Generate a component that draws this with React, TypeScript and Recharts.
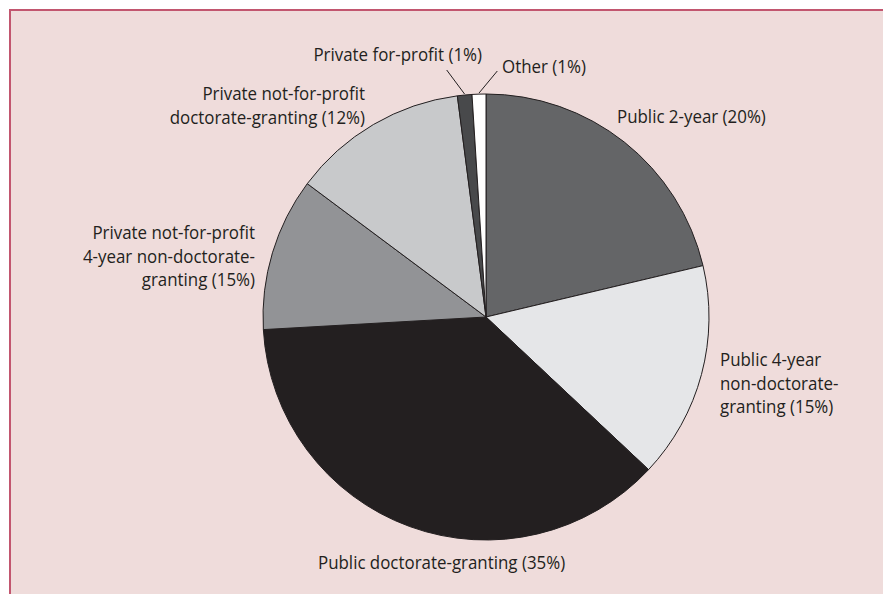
import React from 'react';
import { Cell, Pie, PieChart } from 'recharts';

const categories = [
  'Public 2-year',
  'Public 4-year non-doctorate-granting',
  'Public doctorate-granting',
  'Private not-for-profit 4-year non-doctorate-granting',
  'Private not-for-profit doctorate-granting',
  'Private for-profit',
  'Other'
];
const shares = [21.3, 15.7, 37.1, 11.1, 12.75, 1.05, 1.0];
const labelLines = [
  ['Public 2-year (20%)'],
  ['Public 4-year', 'non-doctorate-', 'granting (15%)'],
  ['Public doctorate-granting (35%)'],
  ['Private not-for-profit', '4-year non-doctorate-', 'granting (15%)'],
  ['Private not-for-profit', 'doctorate-granting (12%)'],
  ['Private for-profit (1%)'],
  ['Other (1%)']
];

const SLICE_COLORS = ['#646567', '#e5e6e8', '#231f20', '#929396', '#c8c9cb', '#48494b', '#ffffff'];
const INK = '#231f20';
const FONT = '"Open Sans", "Noto Sans", sans-serif';
const SQUEEZE = 0.89; // the original face is a narrow humanist sans

// label placement relative to the pie centre; lead = leader line end point
const LABEL_LAYOUT: Array<{ dx: number; dy: number; anchor: 'start' | 'middle' | 'end'; lh: number; lead?: [number, number] }> = [
  { dx: 131, dy: -194.5, anchor: 'start', lh: 23.6 },
  { dx: 234, dy: 49, anchor: 'start', lh: 23.6 },
  { dx: -168, dy: 252, anchor: 'start', lh: 23.6 },
  { dx: -231, dy: -78, anchor: 'end', lh: 23.6 },
  { dx: -121, dy: -216.6, anchor: 'end', lh: 23.3 },
  { dx: -4, dy: -256.5, anchor: 'end', lh: 23.6, lead: [-39.3, -247] },
  { dx: 16, dy: -243.7, anchor: 'start', lh: 23.6, lead: [11.3, -246] }
];

const data = categories.map((name, i) => ({ name, value: shares[i] }));

const RAD = Math.PI / 180;

function renderLabel(props: any) {
  const { cx, cy, midAngle, outerRadius, index } = props;
  const cfg = LABEL_LAYOUT[index];
  const lines = labelLines[index];
  const x = cx + cfg.dx;
  const y = cy + cfg.dy;
  let leader = null;
  if (cfg.lead) {
    const sx = cx + Math.cos(-midAngle * RAD) * (outerRadius + 1);
    const sy = cy + Math.sin(-midAngle * RAD) * (outerRadius + 1);
    leader = <line x1={sx} y1={sy} x2={cx + cfg.lead[0]} y2={cy + cfg.lead[1]} stroke={INK} strokeWidth={1} />;
  }
  return (
    <g key={'lbl-' + index}>
      {leader}
      <text
        x={0}
        y={0}
        transform={`translate(${x} ${y}) scale(${SQUEEZE} 1)`}
        textAnchor={cfg.anchor}
        fill={INK}
        fontSize={19}
        fontFamily={FONT}
      >
        {lines.map((ln, j) => (
          <tspan key={j} x={0} dy={j === 0 ? 0 : cfg.lh}>{ln}</tspan>
        ))}
      </text>
    </g>
  );
}

export default function App() {
  return (
    <div style={{ position: 'absolute', left: 0, top: 0, width: 883, height: 594, overflow: 'hidden', background: '#fff' }}>
      <div
        style={{
          position: 'absolute',
          left: 9,
          top: 9,
          width: 900,
          height: 600,
          background: '#efdcdb',
          borderTop: '2px solid #c2566f',
          borderLeft: '2px solid #c2566f'
        }}
      />
      <div style={{ position: 'absolute', left: 0, top: 0 }}>
        <PieChart width={883} height={594} margin={{ top: 0, right: 0, bottom: 0, left: 0 }}>
          <Pie
            data={data}
            dataKey="value"
            nameKey="name"
            cx={486}
            cy={317}
            outerRadius={223}
            startAngle={90}
            endAngle={-270}
            stroke={INK}
            strokeWidth={1}
            label={renderLabel}
            labelLine={false}
            isAnimationActive={false}
          >
            {data.map((d, i) => (
              <Cell key={d.name} fill={SLICE_COLORS[i]} />
            ))}
          </Pie>
        </PieChart>
      </div>
    </div>
  );
}
